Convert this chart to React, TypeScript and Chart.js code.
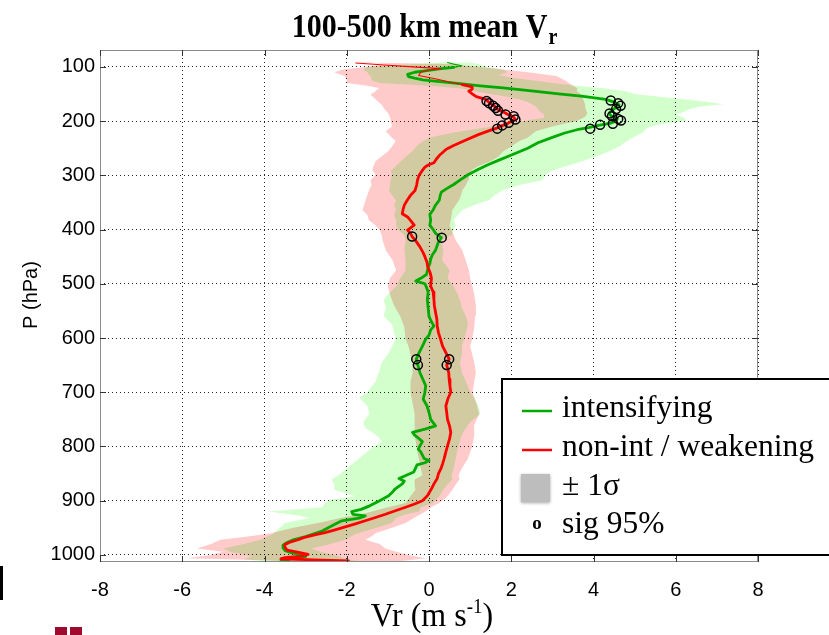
import React, { useEffect, useRef } from 'react';
import { Chart, registerables } from 'chart.js';

// ---------------- data ----------------
const X_TICKS = [-8, -6, -4, -2, 0, 2, 4, 6, 8];
const Y_TICKS = [100, 200, 300, 400, 500, 600, 700, 800, 900, 1000];

// intensifying mean (green)
const P_INT_THIN = [92, 95, 98, 101];
const V_INT_THIN = [0.45, 0.6, 0.8, 0.6];
const P_INT = [101, 104, 107, 110, 114, 118, 121, 124, 127, 131, 135, 139, 145, 150, 154, 160, 165, 170, 175, 180, 185, 190, 195, 200, 204, 208, 212, 216, 222, 230, 240, 250, 262, 272, 281, 290, 299, 308, 317, 325, 331, 338, 346, 356, 364, 372, 383, 392, 400, 407, 415, 425, 438, 447, 455, 463, 470, 476, 483, 490, 495, 500, 507, 515, 529, 545, 560, 570, 578, 585, 595, 602, 615, 627, 639, 650, 664, 676, 688, 700, 713, 725, 737, 750, 762, 768, 774, 779, 785, 791, 799, 805, 810, 816, 822, 826, 830, 834, 847, 853, 859, 864, 869, 878, 885, 891, 900, 909, 916, 920, 925, 928, 932, 937, 944, 950, 956, 961, 966, 972, 977, 982, 987, 992, 996, 1000, 1003, 1006, 1009, 1012];
const V_INT = [0.6, 0.25, -0.05, -0.35, -0.52, -0.5, -0.35, -0.15, 0.2, 0.75, 1.25, 1.8, 2.55, 3.15, 3.7, 4.3, 4.5, 4.62, 4.55, 4.45, 4.38, 4.42, 4.58, 4.55, 4.42, 4.12, 3.88, 3.6, 3.3, 3.0, 2.65, 2.4, 2.02, 1.7, 1.42, 1.18, 0.95, 0.77, 0.6, 0.42, 0.3, 0.27, 0.25, 0.15, 0.1, 0.02, 0.04, 0.02, 0.1, 0.16, 0.3, 0.22, 0.16, 0.08, 0.04, 0.02, -0.02, -0.04, -0.06, -0.2, -0.32, -0.1, -0.06, -0.02, -0.04, -0.02, 0.0, 0.06, 0.12, 0.04, 0.0, -0.08, -0.16, -0.24, -0.31, -0.27, -0.22, -0.15, -0.08, -0.1, -0.14, -0.05, 0.0, 0.04, 0.16, -0.1, -0.4, -0.35, -0.25, -0.16, -0.22, -0.26, -0.2, -0.16, -0.12, 0.0, -0.1, -0.29, -0.37, -0.55, -0.73, -0.6, -0.65, -0.82, -0.9, -0.98, -1.2, -1.43, -1.65, -1.88, -1.85, -1.55, -1.7, -2.12, -2.3, -2.45, -2.6, -2.8, -3.0, -3.3, -3.45, -3.55, -3.55, -3.5, -3.35, -3.05, -3.0, -3.3, -3.6, -3.4];

// non-intensifying / weakening mean (red)
const P_NON_THIN = [93, 97, 101, 103, 106, 110, 116, 122, 128, 133];
const V_NON_THIN = [-1.78, -1.0, -0.2, 0.3, 0.0, -0.2, -0.25, 0.15, 0.5, 0.81];
const P_NON = [133, 137, 141, 145, 150, 155, 160, 166, 172, 178, 183, 188, 193, 197, 201, 205, 209, 213, 218, 225, 235, 245, 252, 262, 270, 277, 281, 285, 291, 300, 309, 318, 328, 337, 346, 355, 363, 371, 377, 383, 392, 397, 401, 407, 413, 420, 432, 443, 450, 460, 469, 480, 490, 504, 515, 529, 540, 553, 565, 578, 590, 602, 615, 627, 639, 650, 664, 676, 688, 700, 712, 725, 737, 750, 762, 774, 786, 799, 810, 822, 832, 841, 850, 859, 869, 878, 891, 900, 906, 912, 918, 925, 931, 937, 944, 950, 955, 959, 963, 968, 972, 977, 981, 986, 991, 995, 999, 1002, 1005, 1007, 1009, 1011];
const V_NON = [0.81, 1.05, 1.05, 0.97, 1.05, 1.15, 1.38, 1.46, 1.58, 1.66, 1.8, 1.92, 2.06, 2.1, 2.0, 1.9, 1.76, 1.65, 1.45, 1.2, 0.9, 0.6, 0.42, 0.27, 0.18, 0.12, -0.02, -0.1, -0.16, -0.24, -0.28, -0.3, -0.34, -0.45, -0.53, -0.6, -0.63, -0.65, -0.52, -0.45, -0.36, -0.45, -0.52, -0.45, -0.41, -0.33, -0.22, -0.14, -0.1, -0.05, -0.03, 0.03, 0.06, 0.04, 0.1, 0.12, 0.13, 0.16, 0.19, 0.2, 0.23, 0.28, 0.33, 0.41, 0.49, 0.43, 0.48, 0.49, 0.51, 0.53, 0.46, 0.41, 0.43, 0.45, 0.5, 0.53, 0.5, 0.45, 0.41, 0.37, 0.33, 0.29, 0.23, 0.2, 0.12, 0.06, -0.04, -0.16, -0.35, -0.57, -0.8, -1.06, -1.3, -1.55, -1.85, -2.12, -2.35, -2.53, -2.78, -3.05, -3.18, -3.4, -3.51, -3.5, -3.45, -3.2, -2.94, -3.1, -3.5, -3.6, -2.8, -1.96];

// +/- 1 sigma band, intensifying
const P_BAND_INT = [92, 95, 100, 105, 110, 115, 120, 125, 130, 135, 140, 145, 150, 155, 160, 165, 169, 173, 178, 183, 188, 194, 200, 206, 213, 221, 231, 240, 246, 255, 265, 275, 283, 291, 298, 309, 318, 328, 337, 346, 355, 364, 373, 383, 392, 401, 410, 420, 438, 456, 475, 490, 505, 520, 530, 545, 560, 575, 590, 602, 615, 630, 645, 664, 680, 700, 710, 725, 740, 755, 766, 778, 791, 803, 822, 840, 853, 861, 870, 880, 892, 898, 904, 912, 920, 926, 932, 941, 948, 955, 962, 972, 980, 988, 995, 1002, 1008, 1013];
const LO_INT = [0.3, -0.3, -1.5, -1.6, -1.5, -1.45, -1.4, -1.4, -1.2, 0.0, 0.8, 1.1, 1.5, 1.9, 2.2, 2.4, 2.5, 2.6, 2.65, 2.7, 2.8, 2.8, 2.3, 1.9, 1.3, 0.6, 0.0, -0.2, -0.3, -0.4, -0.55, -0.7, -0.8, -0.93, -0.9, -0.93, -0.95, -0.97, -0.9, -0.8, -0.85, -0.8, -0.85, -0.8, -0.8, -0.75, -0.6, -0.57, -0.6, -0.57, -0.57, -0.7, -0.8, -1.0, -1.1, -1.05, -1.1, -0.9, -0.85, -0.81, -0.9, -1.0, -1.15, -1.22, -1.3, -1.5, -1.7, -1.5, -1.45, -1.6, -1.55, -1.3, -1.14, -1.4, -1.7, -2.0, -2.2, -2.37, -2.3, -2.3, -1.8, -2.4, -2.53, -2.6, -3.9, -3.3, -2.9, -3.5, -3.6, -3.7, -3.8, -4.1, -4.5, -5.0, -4.8, -4.3, -4.5, -3.8];
const HI_INT = [1.0, 1.2, 1.4, 1.8, 1.9, 1.7, 2.0, 2.5, 3.0, 3.6, 4.3, 4.8, 5.0, 5.6, 6.2, 6.8, 7.16, 6.6, 6.35, 6.2, 6.0, 6.2, 6.27, 5.6, 5.3, 5.2, 4.95, 4.75, 4.65, 4.4, 4.08, 3.7, 3.35, 3.0, 2.85, 2.75, 2.2, 1.78, 1.6, 1.46, 1.1, 0.81, 0.7, 0.6, 0.65, 0.6, 0.55, 0.3, 0.35, 0.32, 0.5, 0.45, 0.6, 0.7, 0.75, 0.8, 0.9, 0.95, 0.9, 0.85, 0.8, 0.8, 0.75, 0.8, 0.9, 1.0, 1.1, 1.2, 1.25, 1.0, 0.9, 0.8, 0.75, 0.7, 0.65, 0.6, 0.55, 0.57, 0.45, 0.35, 0.25, 0.16, 0.1, -0.2, -0.25, -0.6, -0.8, -0.9, -1.2, -1.5, -1.8, -2.04, -2.4, -2.86, -2.6, -2.2, -2.0, -1.6];

// +/- 1 sigma band, non-int / weakening
const P_BAND_NON = [92, 95, 100, 105, 110, 117, 125, 130, 135, 139, 145, 151, 160, 170, 176, 185, 192, 200, 210, 219, 231, 237, 247, 256, 265, 274, 283, 290, 299, 309, 318, 328, 337, 346, 355, 364, 373, 383, 392, 401, 410, 420, 438, 456, 475, 490, 505, 520, 540, 560, 580, 602, 615, 630, 645, 664, 680, 700, 720, 740, 760, 780, 800, 822, 840, 853, 861, 870, 880, 892, 904, 912, 918, 923, 931, 941, 950, 960, 966, 972, 980, 988, 994, 1000, 1006, 1010, 1013];
const LO_NON = [-1.8, -1.0, -1.5, -2.1, -2.3, -2.05, -2.0, -2.0, -1.5, -1.22, -1.3, -1.42, -1.3, -1.15, -1.1, -1.0, -0.95, -0.93, -0.9, -1.05, -0.9, -0.81, -0.9, -1.0, -1.15, -1.3, -1.35, -1.38, -1.3, -1.42, -1.4, -1.46, -1.5, -1.54, -1.58, -1.62, -1.5, -1.46, -1.3, -1.2, -1.15, -1.13, -1.05, -0.89, -0.8, -0.95, -1.0, -0.95, -0.85, -0.7, -0.6, -0.57, -0.5, -0.45, -0.4, -0.4, -0.45, -0.45, -0.4, -0.35, -0.35, -0.35, -0.3, -0.25, -0.2, -0.16, -0.35, -0.35, -0.33, -0.45, -0.57, -1.0, -1.3, -1.55, -2.1, -2.7, -3.3, -3.84, -4.4, -5.07, -5.3, -5.64, -5.0, -5.3, -5.9, -4.0, -3.0];
const HI_NON = [-1.6, 0.5, 1.2, 1.8, 2.4, 3.1, 3.3, 3.4, 3.5, 3.6, 3.6, 3.7, 3.75, 3.8, 3.8, 3.85, 3.8, 3.6, 3.0, 2.6, 2.4, 2.2, 2.0, 1.8, 1.7, 1.5, 1.2, 1.05, 0.97, 0.95, 0.9, 0.81, 0.78, 0.73, 0.65, 0.57, 0.55, 0.53, 0.5, 0.55, 0.6, 0.65, 0.81, 0.89, 0.97, 1.0, 1.06, 1.1, 1.14, 1.12, 1.1, 1.05, 1.0, 1.05, 1.1, 1.14, 1.1, 1.06, 1.15, 1.22, 1.1, 1.1, 1.05, 0.95, 0.8, 0.72, 0.74, 0.65, 0.57, 0.45, 0.25, 0.05, -0.05, -0.16, -0.35, -0.57, -0.9, -1.3, -1.4, -1.55, -1.2, -1.06, -0.8, -0.5, -0.08, -0.5, -1.0];

// significant at 95% (circles)
const SIG_INT_P = [162, 167, 172, 178, 186, 191, 196, 199, 205, 207, 214, 415, 639, 650];
const SIG_INT_V = [4.42, 4.6, 4.66, 4.55, 4.39, 4.45, 4.6, 4.67, 4.47, 4.16, 3.92, 0.31, -0.31, -0.27];
const SIG_NON_P = [163, 167, 172, 176, 181, 188, 191, 197, 203, 208, 214, 413, 639, 650];
const SIG_NON_V = [1.4, 1.46, 1.56, 1.62, 1.68, 1.86, 2.06, 2.1, 1.94, 1.78, 1.66, -0.41, 0.49, 0.43];

// ---------------- styles ----------------
const GREEN = '#00aa00';
const RED = '#ff0000';
const PINK_BAND = '#ffcaca';
const GREEN_BAND = '#d2ffcc';
const SERIF = '"Liberation Serif", "Times New Roman", serif';
const SANS = '"Liberation Sans", Arial, sans-serif';

// blend the sigma bands with "multiply" so their overlap turns tan (registered before Filler)
const bandBlend = {
  id: 'bandBlend',
  beforeDatasetDraw(chart: any, args: any) {
    const ds: any = chart.data.datasets[args.index];
    chart.ctx.globalCompositeOperation = ds && ds.isBand ? 'multiply' : 'source-over';
  },
  afterDatasetDraw(chart: any) {
    chart.ctx.globalCompositeOperation = 'source-over';
  },
};
Chart.register(bandBlend);
Chart.register(...registerables);

const pts = (ps: number[], vs: number[]) => ps.map((p, i) => ({ x: vs[i], y: p }));
const band = (ps: number[], lo: number[], hi: number[]) => {
  const a = ps.map((p, i) => ({ x: lo[i], y: p }));
  const b = ps.map((p, i) => ({ x: hi[i], y: p })).reverse();
  return a.concat(b);
};

const decor = {
  id: 'decor',
  afterDraw(chart: any) {
    const { ctx, chartArea: a, scales } = chart;
    const xs = scales.x;
    const ys = scales.y;
    ctx.save();
    ctx.globalCompositeOperation = 'source-over';
    // frame
    ctx.strokeStyle = '#8c8c8c';
    ctx.lineWidth = 1;
    ctx.strokeRect(a.left + 0.5, a.top + 0.5, a.right - a.left - 1, a.bottom - a.top - 1);
    // inward ticks
    ctx.strokeStyle = '#333';
    ctx.beginPath();
    X_TICKS.forEach((v) => {
      const x = Math.round(xs.getPixelForValue(v)) + 0.5;
      ctx.moveTo(x, a.top); ctx.lineTo(x, a.top + 6);
      ctx.moveTo(x, a.bottom); ctx.lineTo(x, a.bottom - 6);
    });
    Y_TICKS.forEach((p) => {
      const y = Math.round(ys.getPixelForValue(p)) + 0.5;
      ctx.moveTo(a.left, y); ctx.lineTo(a.left + 6, y);
      ctx.moveTo(a.right, y); ctx.lineTo(a.right - 6, y);
    });
    ctx.stroke();

    ctx.fillStyle = '#000';
    ctx.textAlign = 'left';
    ctx.textBaseline = 'alphabetic';
    // title with subscript (slightly tall glyphs as in the reference)
    const t1 = '100-500 km mean V';
    ctx.save();
    ctx.translate(0, 37);
    ctx.scale(1, 1.15);
    ctx.font = `bold 30px ${SERIF}`;
    const w1 = ctx.measureText(t1).width;
    ctx.font = `bold 20px ${SERIF}`;
    const w2 = ctx.measureText('r').width;
    const tx = 424 - (w1 + w2) / 2;
    ctx.font = `bold 30px ${SERIF}`;
    ctx.fillText(t1, tx, 0);
    ctx.font = `bold 20px ${SERIF}`;
    ctx.fillText('r', tx + w1 + 1, 6);
    ctx.restore();

    // x axis title with superscript
    const s1 = 'Vr (m s';
    const s2 = '-1';
    const s3 = ')';
    ctx.save();
    ctx.translate(0, 626);
    ctx.scale(1, 1.08);
    ctx.font = `32px ${SERIF}`;
    const a1 = ctx.measureText(s1).width;
    const a3 = ctx.measureText(s3).width;
    ctx.font = `19px ${SERIF}`;
    const a2 = ctx.measureText(s2).width;
    let xx = 432 - (a1 + a2 + a3) / 2;
    ctx.font = `32px ${SERIF}`;
    ctx.fillText(s1, xx, 0);
    xx += a1;
    ctx.font = `19px ${SERIF}`;
    ctx.fillText(s2, xx, -12);
    xx += a2;
    ctx.font = `32px ${SERIF}`;
    ctx.fillText(s3, xx, 0);
    ctx.restore();

    // y axis title
    ctx.save();
    ctx.translate(31, 295);
    ctx.rotate(-Math.PI / 2);
    ctx.textAlign = 'center';
    ctx.textBaseline = 'middle';
    ctx.font = `20px ${SANS}`;
    ctx.fillText('P (hPa)', 0, 0);
    ctx.restore();

    // legend
    ctx.fillStyle = '#fff';
    ctx.fillRect(502, 379, 340, 176);
    ctx.strokeStyle = '#000';
    ctx.lineWidth = 2;
    ctx.strokeRect(502, 379, 340, 176);
    ctx.lineWidth = 2.5;
    ctx.strokeStyle = GREEN;
    ctx.beginPath(); ctx.moveTo(522, 411); ctx.lineTo(552, 411); ctx.stroke();
    ctx.strokeStyle = RED;
    ctx.beginPath(); ctx.moveTo(522, 450); ctx.lineTo(552, 450); ctx.stroke();
    ctx.save();
    ctx.shadowColor = 'rgba(0,0,0,0.35)';
    ctx.shadowBlur = 3;
    ctx.shadowOffsetY = 1;
    ctx.fillStyle = '#bdbdbd';
    ctx.fillRect(521, 474, 29, 28);
    ctx.restore();
    ctx.fillStyle = '#000';
    ctx.textBaseline = 'middle';
    ctx.textAlign = 'left';
    ctx.font = `31.5px ${SERIF}`;
    ctx.fillText('intensifying', 562, 409);
    ctx.fillText('non-int / weakening', 562, 448);
    ctx.fillText('\u00B1 1\u03C3', 562, 487);
    ctx.fillText('sig 95%', 562, 525);
    ctx.textAlign = 'center';
    ctx.font = `bold 19px ${SERIF}`;
    ctx.fillText('o', 537, 524);

    // page fragments at the lower-left
    ctx.fillStyle = '#000';
    ctx.fillRect(0, 566, 3, 34);
    ctx.fillStyle = '#9e0b2e';
    ctx.fillRect(55, 627, 12, 8);
    ctx.fillRect(70, 627, 12, 8);
    ctx.restore();
  },
};

export default function App() {
  const ref = useRef<HTMLCanvasElement | null>(null);
  useEffect(() => {
    if (!ref.current) return;
    const lineBase = {
      pointRadius: 0,
      fill: false,
      borderJoinStyle: 'round' as const,
      borderCapStyle: 'round' as const,
    };
    const circle = {
      showLine: false,
      pointRadius: 4.5,
      pointHoverRadius: 4.5,
      pointBorderColor: '#000',
      pointBackgroundColor: 'rgba(0,0,0,0)',
      pointBorderWidth: 1.5,
      order: 0,
    };
    const chart = new Chart(ref.current, {
      type: 'line',
      data: {
        datasets: [
          { label: 'sig int', data: pts(SIG_INT_P, SIG_INT_V), ...circle },
          { label: 'sig non', data: pts(SIG_NON_P, SIG_NON_V), ...circle },
          { label: 'non-int / weakening', data: pts(P_NON, V_NON), borderColor: RED, borderWidth: 2.8, order: 1, ...lineBase },
          { label: 'non-int thin', data: pts(P_NON_THIN, V_NON_THIN), borderColor: RED, borderWidth: 1.1, order: 1, ...lineBase },
          { label: 'intensifying', data: pts(P_INT, V_INT), borderColor: GREEN, borderWidth: 2.8, order: 2, ...lineBase },
          { label: 'intensifying thin', data: pts(P_INT_THIN, V_INT_THIN), borderColor: GREEN, borderWidth: 1.1, order: 2, ...lineBase },
          { label: 'sigma int', isBand: true, data: band(P_BAND_INT, LO_INT, HI_INT), fill: 'shape', backgroundColor: GREEN_BAND, borderColor: 'rgba(0,0,0,0)', borderWidth: 0, pointRadius: 0, order: 4 } as any,
          { label: 'sigma non', isBand: true, data: band(P_BAND_NON, LO_NON, HI_NON), fill: 'shape', backgroundColor: PINK_BAND, borderColor: 'rgba(0,0,0,0)', borderWidth: 0, pointRadius: 0, order: 5 } as any,
        ],
      },
      options: {
        indexAxis: 'y',
        responsive: false,
        animation: false,
        devicePixelRatio: 1,
        layout: { padding: { left: 0, right: 71, top: 50, bottom: 0 } },
        plugins: { legend: { display: false }, tooltip: { enabled: false }, title: { display: false } },
        scales: {
          x: {
            type: 'linear',
            position: 'bottom',
            min: -8,
            max: 8,
            afterBuildTicks: (s: any) => { s.ticks = X_TICKS.map((v) => ({ value: v })); },
            afterFit: (s: any) => { s.height = 73; },
            ticks: { autoSkip: false, maxRotation: 0, padding: 16, color: '#000', font: { family: SANS, size: 20 }, callback: (v: any) => String(v) },
            grid: { color: 'rgba(0,0,0,0.85)', lineWidth: 1, drawTicks: false },
            border: { display: false, dash: [1, 3] },
          },
          y: {
            type: 'linear',
            position: 'left',
            reverse: true,
            min: 69,
            max: 1013,
            afterBuildTicks: (s: any) => { s.ticks = Y_TICKS.map((v) => ({ value: v })); },
            afterFit: (s: any) => { s.width = 100; },
            ticks: { autoSkip: false, padding: 5, color: '#000', font: { family: SANS, size: 20 }, callback: (v: any) => String(v) },
            grid: { color: 'rgba(0,0,0,0.85)', lineWidth: 1, drawTicks: false },
            border: { display: false, dash: [1, 3] },
          },
        },
      } as any,
      plugins: [decor],
    });
    return () => chart.destroy();
  }, []);
  return (
    <div style={{ position: 'absolute', left: 0, top: 0, width: 829, height: 635, background: '#fff' }}>
      <canvas ref={ref} width={829} height={635} style={{ display: 'block' }} />
    </div>
  );
}
